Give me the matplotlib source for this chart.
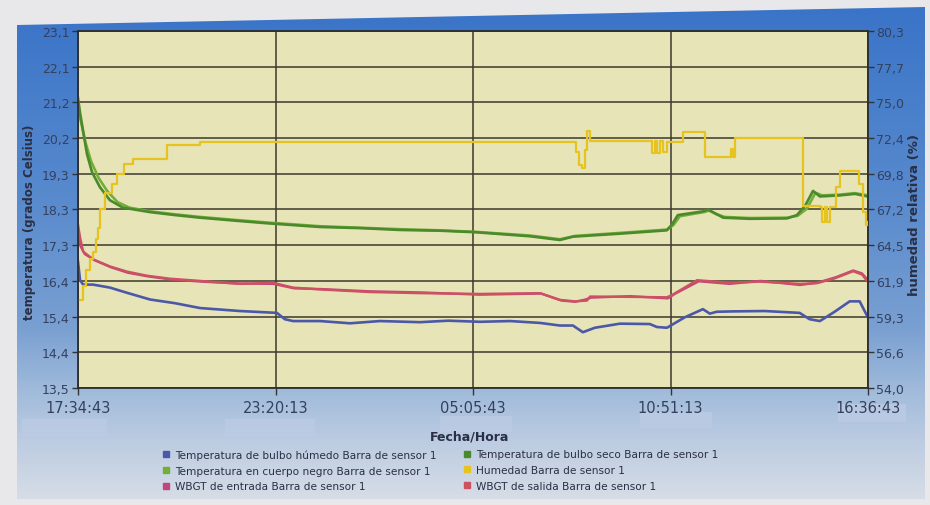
import datetime as dt

import matplotlib.pyplot as plt
import numpy as np
from matplotlib.lines import Line2D
from matplotlib.patches import Polygon, Rectangle

# registro del sensor: 17:34:43 -> 16:36:43 del día siguiente
inicio = dt.datetime(2000, 1, 1, 17, 34, 43)
duracion_h = 23 + 2 / 60

t_humedo = [0.00, 0.06, 0.15, 0.44, 0.93, 1.43, 2.10, 2.83, 3.56, 4.72, 5.80, 6.03,
            6.27, 7.06, 7.93, 8.80, 9.97, 10.8, 11.72, 12.6, 13.47, 14.05, 14.43, 14.72,
            15.07, 15.80, 16.67, 16.88, 17.17, 17.69, 18.22, 18.42, 18.62, 19.09, 20.02,
            21.04, 21.33, 21.63, 22.06, 22.50, 22.79, 23.03]
bulbo_humedo = [16.90, 16.40, 16.28, 16.28, 16.20, 16.06, 15.88, 15.78, 15.65, 15.57, 15.52, 15.35,
                15.30, 15.30, 15.24, 15.30, 15.27, 15.31, 15.28, 15.30, 15.25, 15.18, 15.18, 15.00,
                15.12, 15.23, 15.22, 15.14, 15.12, 15.40, 15.62, 15.50, 15.55, 15.56, 15.57,
                15.52, 15.35, 15.30, 15.55, 15.83, 15.83, 15.40]

t_seco = [0.00, 0.06, 0.15, 0.26, 0.41, 0.64, 0.93, 1.31, 2.10, 2.83, 3.56, 4.58, 5.51,
          7.06, 8.22, 9.39, 10.55, 11.57, 13.18, 14.05, 14.43, 15.80, 17.17, 17.32, 17.49,
          18.22, 18.37, 18.57, 18.81, 19.59, 20.67, 20.96, 21.20, 21.43, 21.63, 22.22,
          22.65, 23.03]
bulbo_seco = [21.30, 20.90, 20.40, 19.80, 19.30, 18.90, 18.55, 18.35, 18.23, 18.15, 18.08, 18.00, 17.93,
              17.83, 17.80, 17.75, 17.73, 17.69, 17.58, 17.48, 17.57, 17.65, 17.74, 17.90, 18.15,
              18.25, 18.30, 18.20, 18.08, 18.05, 18.06, 18.15, 18.40, 18.80, 18.65, 18.68,
              18.72, 18.65]

t_negro = [0.00, 0.10, 0.22, 0.38, 0.60, 0.85, 1.15, 1.50, 2.10, 2.83, 3.56, 4.58, 5.51,
           7.06, 8.22, 9.39, 10.55, 11.57, 13.18, 14.05, 14.50, 15.80, 17.17, 17.36, 17.55,
           18.25, 18.40, 18.60, 18.85, 19.59, 20.67, 20.98, 21.25, 21.50, 21.70, 22.22,
           22.65, 23.03]
cuerpo_negro = [21.00, 20.60, 20.10, 19.60, 19.15, 18.80, 18.50, 18.35, 18.25, 18.17, 18.10, 18.02, 17.95,
                17.85, 17.81, 17.77, 17.74, 17.70, 17.60, 17.50, 17.59, 17.67, 17.76, 17.88, 18.12,
                18.23, 18.27, 18.18, 18.10, 18.07, 18.08, 18.13, 18.32, 18.75, 18.68, 18.70,
                18.74, 18.68]

t_salida = [0.00, 0.06, 0.15, 0.44, 0.93, 1.43, 2.01, 2.68, 3.56, 4.72, 5.69, 6.27, 7.06,
            8.51, 9.97, 11.72, 13.47, 14.05, 14.49, 14.84, 14.93, 16.09, 17.17, 17.32,
            18.05, 19.01, 19.88, 21.05, 21.55, 22.07, 22.60, 22.86, 23.03]
wbgt_salida = [17.90, 17.55, 17.17, 16.96, 16.77, 16.63, 16.52, 16.44, 16.38, 16.30, 16.33, 16.20, 16.15,
               16.08, 16.05, 16.03, 16.05, 15.87, 15.83, 15.85, 15.96, 15.95, 15.94, 16.00,
               16.40, 16.33, 16.36, 16.30, 16.32, 16.45, 16.64, 16.55, 16.35]

t_entrada = [0.00, 0.08, 0.20, 0.50, 0.95, 1.45, 2.05, 2.70, 3.60, 4.70, 5.70, 6.30, 7.10,
             8.50, 10.00, 11.70, 13.50, 14.10, 14.50, 14.80, 14.95, 16.10, 17.20, 17.40,
             18.10, 19.00, 19.90, 21.05, 21.55, 22.10, 22.60, 22.86, 23.03]
wbgt_entrada = [17.70, 17.30, 17.10, 16.93, 16.75, 16.60, 16.50, 16.42, 16.36, 16.31, 16.30, 16.18, 16.16,
                16.10, 16.07, 16.01, 16.04, 15.85, 15.82, 15.88, 15.93, 15.97, 15.91, 16.03,
                16.37, 16.30, 16.38, 16.27, 16.33, 16.48, 16.66, 16.58, 16.40]

t_humedad = [0.06, 0.15, 0.23, 0.35, 0.44, 0.52, 0.58, 0.64, 0.79, 0.99, 1.14, 1.34, 1.60,
             2.59, 3.56, 14.49, 14.52, 14.61, 14.69, 14.78, 14.84, 14.93, 16.68, 16.74,
             16.82, 16.88, 16.97, 17.06, 17.17, 17.64, 18.28, 19.04, 19.10, 19.16, 20.96,
             21.14, 21.63, 21.69, 21.78, 21.84, 21.93, 22.10, 22.22, 22.71, 22.77, 22.89,
             22.97, 23.03]
humedad = [60.5, 61.5, 62.7, 63.5, 64.0, 65.0, 65.8, 67.2, 68.4, 69.0, 69.8, 70.5, 70.9,
           71.9, 72.1, 72.1, 71.4, 70.4, 70.2, 71.5, 72.9, 72.2, 72.2, 71.3,
           72.2, 71.3, 72.2, 71.4, 72.1, 72.85, 71.0, 71.6, 71.0, 72.45, 72.45,
           67.4, 67.3, 66.2, 67.3, 66.2, 67.3, 68.8, 70.0, 70.0, 69.0, 67.0,
           66.0, 66.2]

etiquetas_temp = ['13,5', '14,4', '15,4', '16,4', '17,3', '18,3', '19,3', '20,2', '21,2', '22,1', '23,1']
etiquetas_hum = ['54,0', '56,6', '59,3', '61,9', '64,5', '67,2', '69,8', '72,4', '75,0', '77,7', '80,3']

c_humedo = '#4b58a8'
c_seco = '#4a8a2c'
c_negro = '#74ae38'
c_humedad = '#e6c31e'
c_entrada = '#c2457e'
c_salida = '#cc5260'
c_texto = '#34405f'

W, H = 930, 506
fig = plt.figure(figsize=(W / 100, H / 100), dpi=100)
fig.patch.set_facecolor('#e8e8ea')

# marco azul con degradado vertical
fondo = fig.add_axes([0, 0, 1, 1], zorder=0)
fondo.set_xlim(0, W)
fondo.set_ylim(H, 0)
fondo.axis('off')
filas = np.arange(8, 501)
paradas = [8, 200, 330, 400, 450, 500]
rgb = np.array([[58, 116, 200], [88, 138, 205], [122, 160, 210],
                [165, 190, 220], [192, 206, 226], [214, 221, 230]]) / 255
grad = np.stack([np.interp(filas, paradas, rgb[:, k]) for k in range(3)], axis=-1)
img = fondo.imshow(grad[:, None, :], extent=[17, 925, 500, 8], aspect='auto', interpolation='bilinear')
borde = Polygon([(17, 26), (925, 8), (925, 500), (17, 500)], closed=True, transform=fondo.transData)
img.set_clip_path(borde)
for x0, y0, w, h in [(22, 420, 85, 18), (225, 420, 90, 18), (440, 417, 72, 16),
                     (640, 413, 72, 16), (838, 405, 68, 18)]:
    fondo.add_patch(Rectangle((x0, y0), w, h, color='#bccbe3', alpha=0.8, lw=0))

ax = fig.add_axes([78 / W, 1 - 389 / H, 790 / W, 357 / H], zorder=2)
ax.set_facecolor('#e7e4b7')

ax.plot(t_humedo, bulbo_humedo, color=c_humedo, lw=1.9)
ax.plot(t_entrada, wbgt_entrada, color=c_entrada, lw=1.7)
ax.plot(t_salida, wbgt_salida, color=c_salida, lw=1.7)
ax.plot(t_negro, cuerpo_negro, color=c_negro, lw=1.9)
ax.plot(t_seco, bulbo_seco, color=c_seco, lw=1.9)

ax.set_xlim(0, duracion_h)
ax.set_ylim(13.5, 23.1)
xt = np.linspace(0, duracion_h, 5)
ax.set_xticks(xt)
ax.set_xticklabels([(inicio + dt.timedelta(seconds=round(h * 3600))).strftime('%H:%M:%S') for h in xt])
ax.set_yticks(np.linspace(13.5, 23.1, 11))
ax.set_yticklabels(etiquetas_temp)
ax.grid(True, color='#3b3a2c', lw=1.1)
ax.set_axisbelow(True)
ax.tick_params(axis='x', length=5, width=1, pad=4, labelsize=10.5, colors='#333', labelcolor=c_texto)
ax.tick_params(axis='y', length=4, width=1, pad=2, labelsize=9, colors='#333', labelcolor=c_texto)
for s in ax.spines.values():
    s.set_color('#2c2c2c')
    s.set_linewidth(1.3)

ax2 = ax.twinx()
ax2.plot(t_humedad, humedad, color=c_humedad, lw=1.6, drawstyle='steps-post')
ax2.set_ylim(54.0, 80.3)
ax2.set_yticks(np.linspace(54.0, 80.3, 11))
ax2.set_yticklabels(etiquetas_hum)
ax2.tick_params(axis='y', length=4, width=1, pad=2, labelsize=9, colors='#333', labelcolor=c_texto)
for s in ax2.spines.values():
    s.set_visible(False)

fig.text(30 / W, 1 - 222 / H, 'temperatura (grados Celsius)', rotation=90, ha='center', va='center',
         fontsize=8.5, fontweight='bold', color='#2a2f45')
fig.text(914 / W, 1 - 215 / H, 'humedad relativa (%)', rotation=90, ha='center', va='center',
         fontsize=9.5, fontweight='bold', color='#2a2f45')
fig.text(470 / W, 1 - 437 / H, 'Fecha/Hora', ha='center', va='center',
         fontsize=9, fontweight='bold', color='#2a2f45')

def marca(c):
    return Line2D([], [], marker='s', ls='none', color=c, markersize=4.5)

leg_kw = dict(frameon=False, fontsize=7.6, handlelength=0.6, handletextpad=0.5,
              labelspacing=0.55, borderpad=0, labelcolor='#2a2f45')
fig.legend([marca(c_humedo), marca(c_negro), marca(c_entrada)],
           ['Temperatura de bulbo húmedo Barra de sensor 1',
            'Temperatura en cuerpo negro Barra de sensor 1',
            'WBGT de entrada Barra de sensor 1'],
           loc='upper left', bbox_to_anchor=(158 / W, 1 - 445 / H), **leg_kw)
fig.legend([marca(c_seco), marca(c_humedad), marca(c_salida)],
           ['Temperatura de bulbo seco Barra de sensor 1',
            'Humedad Barra de sensor 1',
            'WBGT de salida Barra de sensor 1'],
           loc='upper left', bbox_to_anchor=(459 / W, 1 - 445 / H), **leg_kw)

fig.savefig('out.png', dpi=100, facecolor=fig.get_facecolor())
